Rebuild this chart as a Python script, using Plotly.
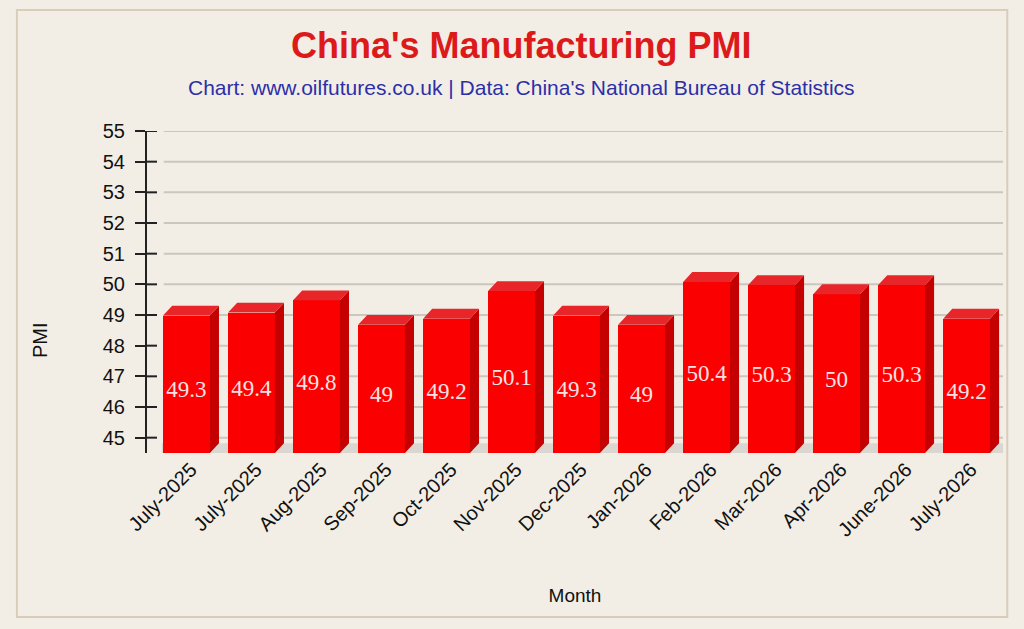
import plotly.graph_objects as go

# Data
months = ['July-2025', 'July-2025', 'Aug-2025', 'Sep-2025', 'Oct-2025', 'Nov-2025', 'Dec-2025',
          'Jan-2026', 'Feb-2026', 'Mar-2026', 'Apr-2026', 'June-2026', 'July-2026']
pmi = [49.3, 49.4, 49.8, 49, 49.2, 50.1, 49.3, 49, 50.4, 50.3, 50, 50.3, 49.2]
y_ticks = [45, 46, 47, 48, 49, 50, 51, 52, 53, 54, 55]

# fake 3d bar geometry (in axis units)
base = 44.5
depth_x = 0.14
depth_y = 0.32
bar_w = 0.72

xs = list(range(len(months)))
front_x = [x - depth_x / 2 for x in xs]

fig = go.Figure()

# floor strip behind the bars
fig.add_shape(type='rect', xref='x', yref='y', x0=-0.45, x1=12.5, y0=base, y1=base + depth_y,
              fillcolor='rgba(200,196,190,0.55)', line=dict(width=0), layer='below')

# grid lines
for t in y_ticks:
    fig.add_shape(type='line', xref='x', yref='y', x0=-0.42, x1=12.5, y0=t, y1=t,
                  line=dict(color='#cbc7bf', width=2), layer='below')

# side + top faces
side_x, side_y, top_x, top_y = [], [], [], []
for fx, v in zip(front_x, pmi):
    l = fx - bar_w / 2
    r = fx + bar_w / 2
    ftop = v - depth_y
    side_x += [r, r, r + depth_x, r + depth_x, r, None]
    side_y += [base, ftop, v, base + depth_y, base, None]
    top_x += [l, l + depth_x, r + depth_x, r, l, None]
    top_y += [ftop, v, v, ftop, ftop, None]

fig.add_trace(go.Scatter(x=side_x, y=side_y, mode='lines', fill='toself', fillcolor='#c40000',
                         line=dict(width=0), hoverinfo='skip', showlegend=False))
fig.add_trace(go.Scatter(x=top_x, y=top_y, mode='lines', fill='toself', fillcolor='#e8262a',
                         line=dict(width=0), hoverinfo='skip', showlegend=False))

fig.add_trace(go.Bar(
    x=front_x, y=[v - depth_y - base for v in pmi], base=base, width=bar_w,
    marker=dict(color='#fb0000', line=dict(width=0)), showlegend=False,
))

# value labels, a little below the middle of the front face
fig.add_trace(go.Scatter(
    x=front_x, y=[(v - depth_y + base) / 2 - 0.24 for v in pmi], mode='text',
    text=[f'{v:g}' for v in pmi],
    textfont=dict(family='Liberation Serif', size=23, color='#f6e4e4'),
    hoverinfo='skip', showlegend=False,
))

# border frame
fig.add_shape(type='rect', xref='paper', yref='paper', x0=-0.152, x1=1.005,
              y0=-0.509, y1=1.376, line=dict(color='#d9cdb9', width=2), layer='below')

# small tick stubs on the plot side of the axis
for t in y_ticks:
    fig.add_shape(type='line', xref='paper', yref='y', x0=0, x1=10 / 856, y0=t, y1=t,
                  line=dict(color='#222', width=2))

# title + subtitle
fig.add_annotation(text="<b>China's Manufacturing PMI</b>", xref='paper', yref='paper',
                   x=0.438, y=1.267, xanchor='center', yanchor='middle', showarrow=False,
                   font=dict(size=36, color='#dd1a1a', family='Liberation Sans'))
fig.add_annotation(text="Chart: www.oilfutures.co.uk | Data: China's National Bureau of Statistics",
                   xref='paper', yref='paper', x=0.438, y=1.134, xanchor='center', yanchor='middle',
                   showarrow=False, font=dict(size=21, color='#2d2fa6', family='Liberation Sans'))

# y title sits below the plot middle in the reference
fig.add_annotation(text='PMI', xref='paper', yref='paper', x=-0.125, y=0.351,
                   xanchor='center', yanchor='middle', textangle=-90, showarrow=False,
                   font=dict(size=20, color='#111', family='Liberation Sans'))

fig.update_layout(
    width=1024, height=629,
    margin=dict(l=147, r=21, t=131, b=176),
    paper_bgcolor='#f2eee6', plot_bgcolor='rgba(0,0,0,0)',
    font=dict(family='Liberation Sans', color='#111'),
    bargap=0,
)

fig.update_yaxes(range=[base, 55], tickvals=y_ticks, showgrid=False, zeroline=False,
                 showline=True, linecolor='#222', linewidth=2,
                 ticks='outside', ticklen=10, tickwidth=2, tickcolor='#222',
                 ticklabelstandoff=6, tickfont=dict(size=20, color='#111'))

fig.update_xaxes(range=[-0.677, 12.49], tickvals=xs, ticktext=months, tickangle=-45,
                 showgrid=False, zeroline=False, showline=False, ticks='',
                 tickfont=dict(size=20, color='#111'),
                 title=dict(text='Month', font=dict(size=19), standoff=48))

fig.write_html('out.html', config={'displayModeBar': False},
               post_script="document.body.style.margin='0';")
